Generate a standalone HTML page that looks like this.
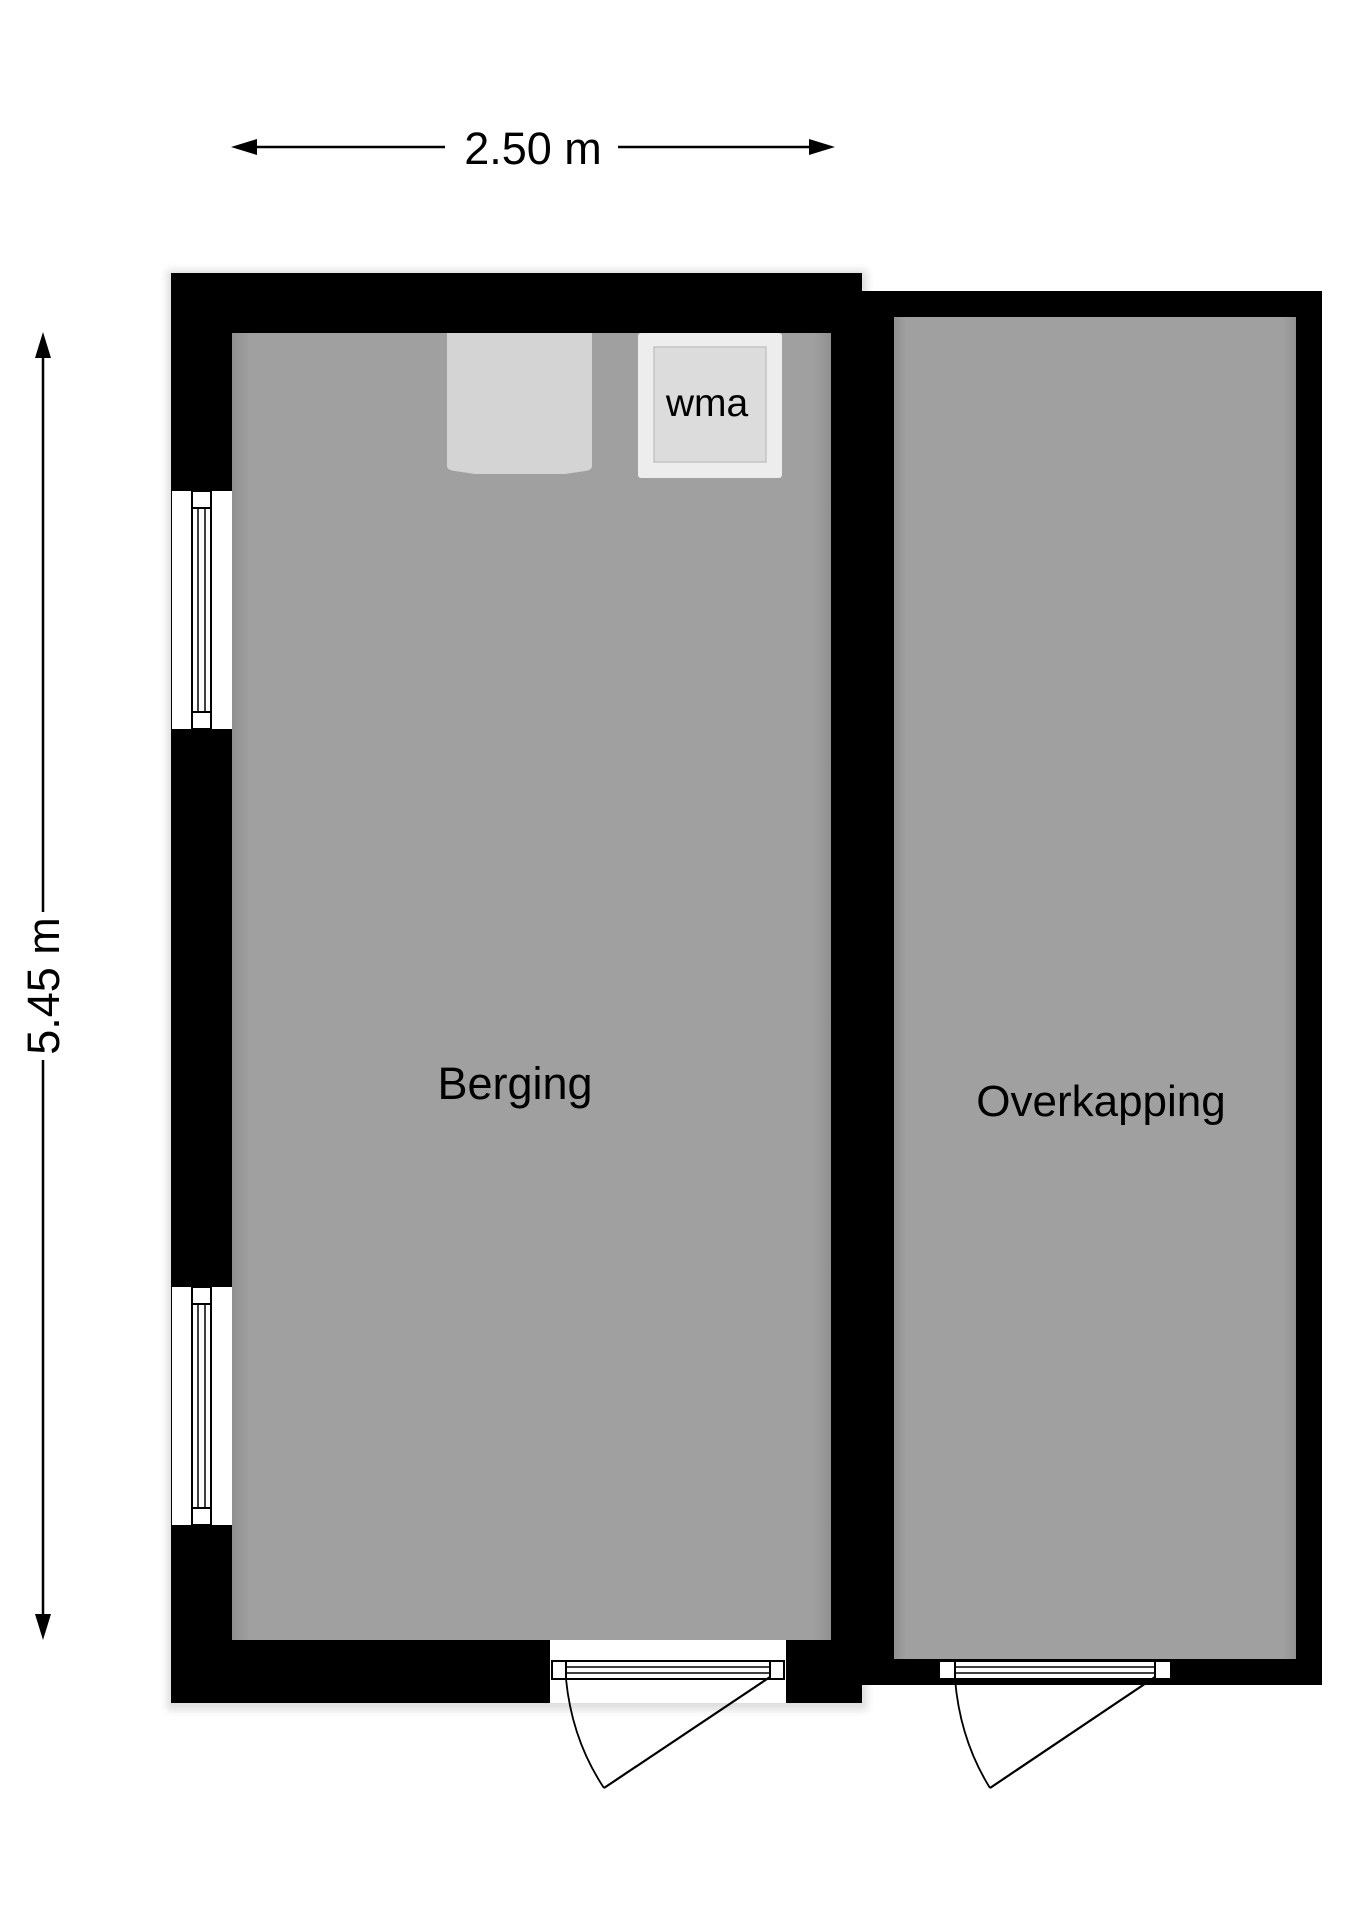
<!DOCTYPE html>
<html><head><meta charset="utf-8"><style>
html,body{margin:0;padding:0;background:#fff;}
svg{display:block;}
text{font-family:"Liberation Sans",sans-serif;fill:#000;}
</style></head><body>
<svg width="1358" height="1920" viewBox="0 0 1358 1920" xmlns="http://www.w3.org/2000/svg">
<defs>
<filter id="sh" x="-5%" y="-5%" width="110%" height="110%"><feGaussianBlur stdDeviation="4"/></filter>
<linearGradient id="lg" x1="0" x2="1"><stop offset="0" stop-color="#909090"/><stop offset="0.03" stop-color="#a0a0a0"/><stop offset="0.97" stop-color="#a0a0a0"/><stop offset="1" stop-color="#909090"/></linearGradient>
</defs>
<rect x="167" y="270" width="700" height="1440" fill="#ddd" filter="url(#sh)"/>
<line x1="245" y1="147" x2="445" y2="147" stroke="#000" stroke-width="2.5"/>
<line x1="618" y1="147" x2="820" y2="147" stroke="#000" stroke-width="2.5"/>
<polygon points="231,147 257,139 257,155" fill="#000"/>
<polygon points="835,147 809,139 809,155" fill="#000"/>
<text x="533" y="164" font-size="45" text-anchor="middle">2.50 m</text>
<line x1="43" y1="345" x2="43" y2="912" stroke="#000" stroke-width="2.5"/>
<line x1="43" y1="1060" x2="43" y2="1625" stroke="#000" stroke-width="2.5"/>
<polygon points="43,332 35,358 51,358" fill="#000"/>
<polygon points="43,1640 35,1614 51,1614" fill="#000"/>
<text x="0" y="0" font-size="45" text-anchor="middle" transform="translate(59,986) rotate(-90)">5.45 m</text>
<rect x="171" y="273" width="691" height="1430" fill="#000"/>
<rect x="862" y="291" width="460" height="1394" fill="#000"/>
<rect x="232" y="333" width="599" height="1307" fill="url(#lg)"/>
<rect x="894" y="317" width="402" height="1342" fill="url(#lg)"/>
<g>
<rect x="172" y="491" width="60" height="238" fill="#fff"/>
<rect x="192" y="491" width="19" height="238" fill="#fff" stroke="#000" stroke-width="2"/>
<line x1="192" y1="508" x2="211" y2="508" stroke="#000" stroke-width="2"/>
<line x1="192" y1="712" x2="211" y2="712" stroke="#000" stroke-width="2"/>
<line x1="198" y1="508" x2="198" y2="712" stroke="#000" stroke-width="1.5"/>
<line x1="205" y1="508" x2="205" y2="712" stroke="#000" stroke-width="1.5"/>
</g>
<g transform="translate(0,796)">
<rect x="172" y="491" width="60" height="238" fill="#fff"/>
<rect x="192" y="491" width="19" height="238" fill="#fff" stroke="#000" stroke-width="2"/>
<line x1="192" y1="508" x2="211" y2="508" stroke="#000" stroke-width="2"/>
<line x1="192" y1="712" x2="211" y2="712" stroke="#000" stroke-width="2"/>
<line x1="198" y1="508" x2="198" y2="712" stroke="#000" stroke-width="1.5"/>
<line x1="205" y1="508" x2="205" y2="712" stroke="#000" stroke-width="1.5"/>
</g>
<path d="M447,333 H592 V466 Q592,470 585,471 L565,474 H475 L455,471 Q447,470 447,466 Z" fill="#d4d4d4"/>
<rect x="638" y="333" width="144" height="145" rx="3" fill="#ededed"/>
<rect x="654" y="347" width="112" height="115" fill="#dcdcdc" stroke="#c4c4c4" stroke-width="1.5"/>
<text x="707" y="416" font-size="39" text-anchor="middle">wma</text>
<rect x="550" y="1640" width="236" height="63" fill="#fff"/>
<rect x="552" y="1661" width="232" height="18" fill="#fff" stroke="#000" stroke-width="2"/>
<line x1="566" y1="1661" x2="566" y2="1679" stroke="#000" stroke-width="2"/>
<line x1="770" y1="1661" x2="770" y2="1679" stroke="#000" stroke-width="2"/>
<line x1="566" y1="1667" x2="770" y2="1667" stroke="#000" stroke-width="1.5"/>
<line x1="566" y1="1673" x2="770" y2="1673" stroke="#000" stroke-width="1.5"/>
<path d="M566,1679 Q572,1740 604,1788" fill="none" stroke="#000" stroke-width="1.8"/>
<line x1="770" y1="1677" x2="604" y2="1788" stroke="#000" stroke-width="2.2"/>
<rect x="939" y="1661" width="232" height="18" fill="#fff" stroke="#000" stroke-width="2"/>
<line x1="955" y1="1661" x2="955" y2="1679" stroke="#000" stroke-width="2"/>
<line x1="1155" y1="1661" x2="1155" y2="1679" stroke="#000" stroke-width="2"/>
<line x1="955" y1="1667" x2="1155" y2="1667" stroke="#000" stroke-width="1.5"/>
<line x1="955" y1="1673" x2="1155" y2="1673" stroke="#000" stroke-width="1.5"/>
<path d="M955,1679 Q960,1740 990,1788" fill="none" stroke="#000" stroke-width="1.8"/>
<line x1="1155" y1="1677" x2="990" y2="1788" stroke="#000" stroke-width="2.2"/>
<text x="515" y="1099" font-size="45" text-anchor="middle">Berging</text>
<text x="1101" y="1116" font-size="44" text-anchor="middle">Overkapping</text>
</svg>
</body></html>
